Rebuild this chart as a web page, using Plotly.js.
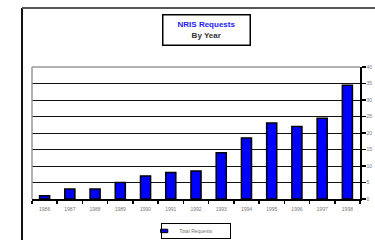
<!DOCTYPE html>
<html>
<head>
<meta charset="utf-8">
<script src="https://cdn.plot.ly/plotly-3.0.1.min.js"></script>
<style>html,body{margin:0;padding:0;background:#fff;}#chart{width:375px;height:240px;}</style>
</head>
<body>
<div id="chart"></div>
<script>
var years = ["1986","1987","1988","1989","1990","1991","1992","1993","1994","1995","1996","1997","1998"];
var totalRequests = [1, 3, 3, 5, 7, 8, 8.5, 14, 18.5, 23, 22, 24.5, 34.5];
var seriesName = "Total Requests";
var yTicks = [0, 5, 10, 15, 20, 25, 30, 35, 40];

var trace = {
  type: "bar",
  x: years,
  y: totalRequests,
  name: seriesName,
  marker: {color: "#0000ff", line: {color: "#000", width: 1.5}},
  showlegend: false,
  hoverinfo: "x+y"
};

var layout = {
  width: 375, height: 240,
  margin: {l: 32, r: 15, t: 67, b: 41, autoexpand: false},
  paper_bgcolor: "#fff", plot_bgcolor: "#fff",
  font: {family: "Liberation Sans, Arial, sans-serif", size: 5, color: "#777"},
  bargap: 0.6,
  xaxis: {
    type: "category",
    showline: true, linecolor: "#000", linewidth: 1.5,
    ticks: "outside", tickson: "boundaries", ticklen: 3, tickcolor: "#000", tickwidth: 1.5,
    ticklabelstandoff: 4,
    tickfont: {size: 5, color: "#777"},
    showgrid: false, zeroline: false
  },
  yaxis: {
    side: "right", range: [0, 40], tickvals: yTicks, ticktext: yTicks.map(String),
    showline: true, linecolor: "#000", linewidth: 1.5,
    ticks: "outside", ticklen: 4, tickcolor: "#000", tickwidth: 1.5,
    showgrid: true, gridcolor: "#111", gridwidth: 1,
    zeroline: false, tickfont: {size: 5, color: "#777"}
  },
  showlegend: false,
  annotations: [
    {
      xref: "paper", yref: "paper", x: 0.532, y: 1.28,
      xanchor: "center", yanchor: "middle", showarrow: false,
      text: "<b><span style='color:#2020ff'>NRIS Requests</span><br>By Year</b>",
      font: {size: 8, color: "#333", family: "Liberation Sans, Arial, sans-serif"},
      bordercolor: "#000", borderwidth: 1.5, borderpad: 2,
      width: 82, height: 25, bgcolor: "#fff"
    },
    {
      xref: "paper", yref: "paper", x: 0.5, y: -0.242,
      xanchor: "center", yanchor: "middle", showarrow: false,
      text: seriesName,
      font: {size: 5, color: "#777", family: "Liberation Sans, Arial, sans-serif"},
      bordercolor: "#000", borderwidth: 1, borderpad: 2,
      width: 64, height: 10, align: "center", bgcolor: "rgba(0,0,0,0)"
    }
  ],
  shapes: [
    {type: "line", xref: "paper", yref: "paper", x0: 0, x1: 1, y0: 1, y1: 1, line: {color: "#999", width: 1.5}},
    {type: "line", xref: "paper", yref: "paper", x0: 0, x1: 0, y0: 0, y1: 1, line: {color: "#999", width: 1.5}},
    {type: "line", xref: "paper", yref: "paper", x0: -0.0305, x1: -0.0305, y0: -0.5, y1: 1.447, line: {color: "#111", width: 2}},
    {type: "line", xref: "paper", yref: "paper", x0: -0.0305, x1: 1.1, y0: 1.447, y1: 1.447, line: {color: "#555", width: 2}},
    {type: "rect", xref: "paper", yref: "paper", x0: 0.392, x1: 0.414, y0: -0.229, y1: -0.255, fillcolor: "#0000ff", line: {color: "#000", width: 1}}
  ]
};

Plotly.newPlot("chart", [trace], layout, {staticPlot: true});
</script>
</body>
</html>
